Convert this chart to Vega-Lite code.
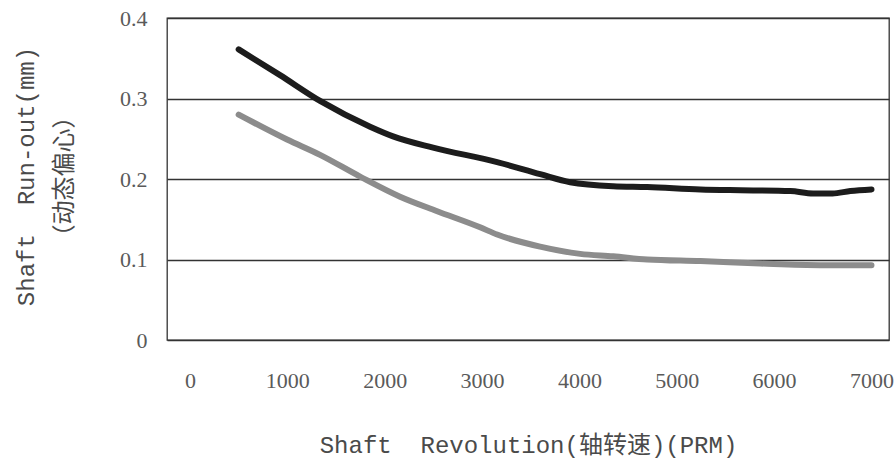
{
  "$schema": "https://vega.github.io/schema/vega-lite/v6.json",
  "autosize": {"type": "none"},
  "padding": {"left": 167, "top": 18, "right": 7, "bottom": 125},
  "width": 722,
  "height": 322,
  "background": "white",
  "config": {
    "view": {"stroke": "#333333", "strokeWidth": 1.3},
    "axis": {
      "labelFont": "Liberation Serif",
      "labelFontSize": 22,
      "labelColor": "#5a5a5a",
      "titleFont": "Liberation Mono, Noto Sans CJK SC",
      "titleFontSize": 24,
      "titleFontWeight": "normal",
      "titleColor": "#4a4a4a",
      "ticks": false,
      "domain": false
    }
  },
  "data": {
    "values": [
      {"rpm": 500, "runout": 0.361, "series": "A"},
      {"rpm": 925, "runout": 0.329, "series": "A"},
      {"rpm": 1336, "runout": 0.297, "series": "A"},
      {"rpm": 1850, "runout": 0.265, "series": "A"},
      {"rpm": 2086, "runout": 0.253, "series": "A"},
      {"rpm": 2497, "runout": 0.239, "series": "A"},
      {"rpm": 3155, "runout": 0.221, "series": "A"},
      {"rpm": 3597, "runout": 0.206, "series": "A"},
      {"rpm": 3905, "runout": 0.196, "series": "A"},
      {"rpm": 4347, "runout": 0.191, "series": "A"},
      {"rpm": 4697, "runout": 0.19, "series": "A"},
      {"rpm": 5242, "runout": 0.187, "series": "A"},
      {"rpm": 5653, "runout": 0.186, "series": "A"},
      {"rpm": 6166, "runout": 0.185, "series": "A"},
      {"rpm": 6400, "runout": 0.182, "series": "A"},
      {"rpm": 6600, "runout": 0.182, "series": "A"},
      {"rpm": 6783, "runout": 0.185, "series": "A"},
      {"rpm": 7000, "runout": 0.187, "series": "A"},
      {"rpm": 500, "runout": 0.28, "series": "B"},
      {"rpm": 997, "runout": 0.249, "series": "B"},
      {"rpm": 1336, "runout": 0.23, "series": "B"},
      {"rpm": 1747, "runout": 0.203, "series": "B"},
      {"rpm": 2158, "runout": 0.178, "series": "B"},
      {"rpm": 2539, "runout": 0.16, "series": "B"},
      {"rpm": 2980, "runout": 0.14, "series": "B"},
      {"rpm": 3155, "runout": 0.131, "series": "B"},
      {"rpm": 3597, "runout": 0.116, "series": "B"},
      {"rpm": 4008, "runout": 0.107, "series": "B"},
      {"rpm": 4347, "runout": 0.104, "series": "B"},
      {"rpm": 4697, "runout": 0.1, "series": "B"},
      {"rpm": 5242, "runout": 0.098, "series": "B"},
      {"rpm": 5858, "runout": 0.095, "series": "B"},
      {"rpm": 6475, "runout": 0.093, "series": "B"},
      {"rpm": 7000, "runout": 0.093, "series": "B"}
    ]
  },
  "mark": {"type": "line", "strokeWidth": 6, "strokeCap": "round", "interpolate": "monotone"},
  "encoding": {
    "x": {
      "field": "rpm",
      "type": "quantitative",
      "scale": {"domain": [-236, 7180], "nice": false, "zero": false},
      "axis": {
        "values": [0, 1000, 2000, 3000, 4000, 5000, 6000, 7000],
        "format": "d",
        "grid": false,
        "labelPadding": 30,
        "title": "Shaft\u00a0 Revolution(轴转速)(PRM)",
        "titlePadding": 42
      }
    },
    "y": {
      "field": "runout",
      "type": "quantitative",
      "scale": {"domain": [0, 0.4], "nice": false},
      "axis": {
        "values": [0, 0.1, 0.2, 0.3, 0.4],
        "format": "~g",
        "grid": true,
        "gridColor": "#333333",
        "gridWidth": 1.3,
        "gridOpacity": 1,
        "labelPadding": 20,
        "title": ["Shaft\u00a0 Run-out(mm)", "（动态偏心）"],
        "titleX": -141,
        "titleY": 158,
        "titleAngle": 270,
        "titleAlign": "center",
        "titleBaseline": "middle",
        "titleLineHeight": 38
      }
    },
    "color": {
      "field": "series",
      "type": "nominal",
      "scale": {"domain": ["A", "B"], "range": ["#1c1c1c", "#8c8c8c"]},
      "legend": null
    }
  }
}
